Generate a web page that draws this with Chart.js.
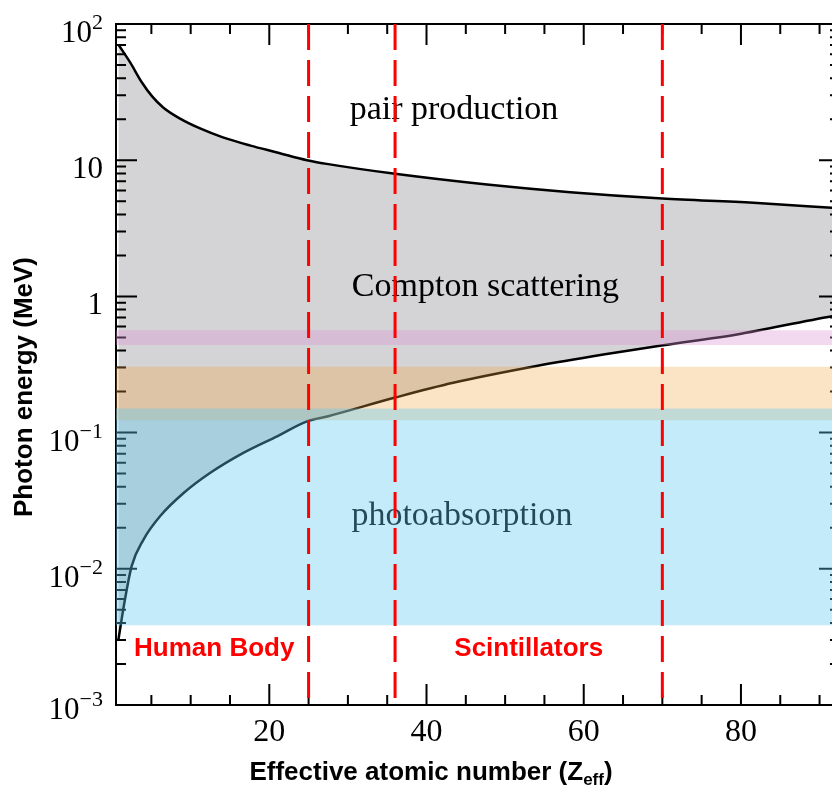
<!DOCTYPE html>
<html>
<head>
<meta charset="utf-8">
<title>Photon interaction regimes vs Z</title>
<script src="https://cdn.jsdelivr.net/npm/chart.js@4.4.1/dist/chart.umd.min.js"></script>
<style>
  html, body { margin: 0; padding: 0; background: #fff; overflow: hidden; }
  canvas { display: block; }
</style>
</head>
<body>
<canvas id="chart" width="841" height="785" style="width:841px;height:785px"></canvas>
<script>
// Pair production / Compton boundary (Z, MeV)
const upperZ = [0.8, 2.3, 3.8, 5.1, 6.5, 8.65, 11.2, 14.1, 17.6, 21, 24.8, 27.3, 36, 47.7, 58.3, 70, 81.6, 92.6];
const upperE = [70.7, 52.2, 37.2, 29.4, 24.4, 20.2, 17.1, 14.7, 12.8, 11.4, 10.0, 9.4, 7.95, 6.63, 5.82, 5.23, 4.87, 4.43];

// Compton / photoabsorption boundary (Z, MeV)
const lowerZ = [0.8, 1.65, 2.5, 4, 6.1, 9.1, 12.5, 16.7, 21, 24.8, 27.5, 35.9, 43.4, 54, 62.5, 69.9, 79.5, 91.6, 92.6];
const lowerE = [0.003, 0.006, 0.0105, 0.0164, 0.0243, 0.036, 0.0507, 0.071, 0.094, 0.121, 0.132, 0.180, 0.232, 0.308, 0.374, 0.436, 0.525, 0.716, 0.73];

// Energy windows (MeV)
const bandLow = [0.00385, 0.123, 0.44];
const bandHigh = [0.150, 0.304, 0.565];

// Vertical Z markers
const markerZ = [25, 36, 70];

// Axes
const xRange = [0.5, 92.6];
const yRange = [0.001, 100];
const xMajorTicks = [20, 40, 60, 80];
const xMinorTicks = [5, 10, 15, 25, 30, 35, 45, 50, 55, 65, 70, 75, 85, 90];
const xTickLabels = ['20', '40', '60', '80'];
const yDecades = [0.001, 0.01, 0.1, 1, 10, 100];
const yTickLabels = [['10', '\u22123'], ['10', '\u22122'], ['10', '\u22121'], ['1', ''], ['10', ''], ['10', '2']];

// Colors
const colors = {
  gray: 'rgb(212, 211, 213)',
  blue: 'rgba(92, 200, 238, 0.37)',
  orange: 'rgba(242, 162, 62, 0.3)',
  pink: 'rgba(218, 146, 212, 0.35)',
  red: '#ff0000',
  black: '#000000',
  none: 'rgba(0, 0, 0, 0)'
};
const bandColors = [colors.blue, colors.orange, colors.pink];

const SERIF = '"Liberation Serif", "Times New Roman", serif';
const SANS = '"Liberation Sans", Arial, sans-serif';

const toPoints = (xs, ys) => xs.map((x, i) => ({ x: x, y: ys[i] }));

// Build datasets (lower order = drawn on top)
const datasets = [];

markerZ.forEach(z => {
  datasets.push({
    data: [{ x: z, y: yRange[1] }, { x: z, y: yRange[0] }],
    borderColor: colors.red,
    borderWidth: 3,
    borderDash: [26, 10],
    pointRadius: 0,
    fill: false,
    order: 0
  });
});

bandLow.forEach((lo, i) => {
  datasets.push({
    data: [{ x: xRange[0], y: bandHigh[i] }, { x: xRange[1], y: bandHigh[i] }],
    borderColor: colors.none,
    borderWidth: 0,
    pointRadius: 0,
    backgroundColor: bandColors[i],
    fill: { value: lo },
    order: 1
  });
});

const upperIndex = datasets.length;
datasets.push({
  data: toPoints(upperZ, upperE),
  borderColor: colors.black,
  borderWidth: 2.5,
  pointRadius: 0,
  fill: false,
  cubicInterpolationMode: 'monotone',
  order: 2
});

const lowerIndex = datasets.length;
datasets.push({
  data: toPoints(lowerZ, lowerE),
  borderColor: colors.black,
  borderWidth: 2.5,
  pointRadius: 0,
  fill: false,
  cubicInterpolationMode: 'monotone',
  order: 2
});

// Compton region: area between the two boundaries
const grayIndex = datasets.length;
datasets.push({
  data: toPoints(upperZ, upperE),
  borderColor: colors.none,
  borderWidth: 0,
  pointRadius: 0,
  backgroundColor: colors.gray,
  fill: lowerIndex,
  cubicInterpolationMode: 'monotone',
  order: 3
});

// Region names drawn in data coordinates
const regionLabels = [
  { text: 'pair production', z: 43.5, e: 20.2 },
  { text: 'Compton scattering', z: 47.5, e: 1.0 },
  { text: 'photoabsorption', z: 44.5, e: 0.021 }
];
const groupLabels = [
  { text: 'Human Body', z: 13, e: 0.0023 },
  { text: 'Scintillators', z: 53, e: 0.0023 }
];

function line(ctx, x1, y1, x2, y2) {
  ctx.moveTo(x1, y1);
  ctx.lineTo(x2, y2);
}

// Frame and inward ticks on all four sides
function drawFrame(chart) {
  const { ctx, chartArea: a, scales: { x, y } } = chart;
  ctx.save();
  ctx.strokeStyle = colors.black;
  ctx.lineWidth = 2;
  ctx.strokeRect(a.left, a.top, a.right - a.left, a.bottom - a.top);

  ctx.beginPath();
  xMajorTicks.forEach(v => {
    const px = x.getPixelForValue(v);
    line(ctx, px, a.bottom, px, a.bottom - 21);
    line(ctx, px, a.top, px, a.top + 21);
  });
  xMinorTicks.forEach(v => {
    const px = x.getPixelForValue(v);
    line(ctx, px, a.bottom, px, a.bottom - 10);
    line(ctx, px, a.top, px, a.top + 10);
  });
  yDecades.forEach((d, i) => {
    const py = y.getPixelForValue(d);
    line(ctx, a.left, py, a.left + 21, py);
    line(ctx, a.right, py, a.right - 21, py);
    if (i === yDecades.length - 1) return;
    for (let m = 2; m <= 9; m++) {
      const pm = y.getPixelForValue(m * d);
      line(ctx, a.left, pm, a.left + 10, pm);
      line(ctx, a.right, pm, a.right - 10, pm);
    }
  });
  ctx.stroke();
  ctx.restore();
}

function drawRegionLabels(chart) {
  const { ctx, scales: { x, y } } = chart;
  ctx.save();
  ctx.fillStyle = colors.black;
  ctx.font = '34px ' + SERIF;
  ctx.textAlign = 'center';
  ctx.textBaseline = 'alphabetic';
  regionLabels.forEach(l => {
    ctx.fillText(l.text, x.getPixelForValue(l.z), y.getPixelForValue(l.e));
  });
  ctx.restore();
}

function drawTickLabels(chart) {
  const { ctx, chartArea: a, scales: { x, y } } = chart;
  ctx.save();
  ctx.fillStyle = colors.black;
  ctx.textBaseline = 'alphabetic';

  // y: base with optional superscript, right aligned
  yDecades.forEach((d, i) => {
    const [base, exp] = yTickLabels[i];
    const py = y.getPixelForValue(d) + (i === 0 ? 14 : 18);
    const right = a.left - 13;
    ctx.font = '22px ' + SERIF;
    const expW = exp ? ctx.measureText(exp).width : 0;
    if (exp) {
      ctx.textAlign = 'right';
      ctx.fillText(exp, right, py - 13);
    }
    ctx.font = '31px ' + SERIF;
    ctx.textAlign = 'right';
    ctx.fillText(base, right - expW, py);
  });

  // x
  ctx.font = '32px ' + SERIF;
  ctx.textAlign = 'center';
  xMajorTicks.forEach((v, i) => {
    ctx.fillText(xTickLabels[i], x.getPixelForValue(v), a.bottom + 36);
  });
  ctx.restore();
}

function drawAxisTitles(chart) {
  const { ctx } = chart;
  ctx.save();
  ctx.fillStyle = colors.black;

  // y title
  ctx.save();
  ctx.translate(25, 387);
  ctx.rotate(-Math.PI / 2);
  ctx.font = 'bold 26px ' + SANS;
  ctx.textAlign = 'center';
  ctx.textBaseline = 'middle';
  ctx.fillText('Photon energy (MeV)', 0, 0);
  ctx.restore();

  // x title with subscript
  const main = 'Effective atomic number (Z';
  const sub = 'eff';
  const close = ')';
  ctx.font = 'bold 26px ' + SANS;
  const wMain = ctx.measureText(main).width;
  const wClose = ctx.measureText(close).width;
  ctx.font = 'bold 17px ' + SANS;
  const wSub = ctx.measureText(sub).width;
  let cx = 431 - (wMain + wSub + wClose) / 2;
  const base = 780;
  ctx.textAlign = 'left';
  ctx.textBaseline = 'alphabetic';
  ctx.font = 'bold 26px ' + SANS;
  ctx.fillText(main, cx, base);
  cx += wMain;
  ctx.font = 'bold 17px ' + SANS;
  ctx.fillText(sub, cx, base + 5);
  cx += wSub;
  ctx.font = 'bold 26px ' + SANS;
  ctx.fillText(close, cx, base);
  ctx.restore();
}

function drawGroupLabels(chart) {
  const { ctx, scales: { x, y } } = chart;
  ctx.save();
  ctx.fillStyle = colors.red;
  ctx.font = 'bold 26px ' + SANS;
  ctx.textAlign = 'center';
  ctx.textBaseline = 'alphabetic';
  groupLabels.forEach(l => {
    ctx.fillText(l.text, x.getPixelForValue(l.z), y.getPixelForValue(l.e));
  });
  ctx.restore();
}

const decorations = {
  id: 'decorations',
  afterDatasetDraw(chart, args) {
    // frame and region names sit above the gray fill but under the bands
    if (args.index !== grayIndex) return;
    drawFrame(chart);
    drawRegionLabels(chart);
  },
  afterDraw(chart) {
    drawTickLabels(chart);
    drawAxisTitles(chart);
    drawGroupLabels(chart);
  }
};

const ctx = document.getElementById('chart').getContext('2d');
new Chart(ctx, {
  type: 'line',
  data: { datasets: datasets },
  options: {
    responsive: false,
    animation: false,
    devicePixelRatio: 1,
    layout: { padding: { left: 116, right: 1, top: 24, bottom: 80 } },
    scales: {
      x: { type: 'linear', display: false, min: xRange[0], max: xRange[1], bounds: 'data' },
      y: { type: 'logarithmic', display: false, min: yRange[0], max: yRange[1], bounds: 'data' }
    },
    plugins: {
      legend: { display: false },
      tooltip: { enabled: false },
      filler: { propagate: false }
    }
  },
  plugins: [decorations]
});
</script>
</body>
</html>
